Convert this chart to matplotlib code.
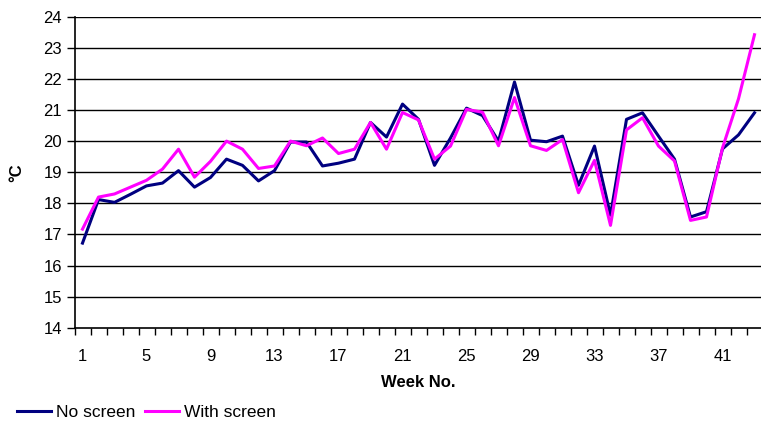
import matplotlib
matplotlib.use("Agg")
import matplotlib.pyplot as plt
import numpy as np

plt.rcParams['font.family'] = ['Liberation Sans', 'DejaVu Sans']

weeks = list(range(1, 44))
no_screen = [16.72, 18.12, 18.03, 18.29, 18.56, 18.65, 19.05, 18.52, 18.83, 19.42,
             19.22, 18.72, 19.05, 19.97, 19.97, 19.20, 19.29, 19.42, 20.60, 20.13,
             21.19, 20.70, 19.22, 20.10, 21.06, 20.82, 20.00, 21.90, 20.03, 19.98,
             20.16, 18.58, 19.84, 17.62, 20.70, 20.91, 20.16, 19.42, 17.56, 17.73,
             19.75, 20.20, 20.91]
with_screen = [17.17, 18.20, 18.30, 18.52, 18.74, 19.10, 19.74, 18.84, 19.35, 20.00,
               19.74, 19.12, 19.20, 20.00, 19.85, 20.10, 19.60, 19.74, 20.60, 19.74,
               20.92, 20.68, 19.42, 19.84, 21.02, 20.93, 19.85, 21.40, 19.85, 19.70,
               20.05, 18.34, 19.38, 17.29, 20.36, 20.75, 19.84, 19.36, 17.45, 17.56,
               19.78, 21.36, 23.42]
week_labels = [1, 5, 9, 13, 17, 21, 25, 29, 33, 37, 41]

fig = plt.figure(figsize=(7.61, 4.21), dpi=100)
W, H = 761, 421
ax = fig.add_axes([74.5 / W, 1 - 327.7 / H, (762.5 - 74.5) / W, (327.7 - 16.7) / H])

for y in range(15, 25):
    ax.axhline(y, color='black', lw=1.0, zorder=1)

ax.plot(weeks, no_screen, color='#000080', lw=2.2, label='No screen', zorder=3)
ax.plot(weeks, with_screen, color='#ff00ff', lw=2.2, label='With screen', zorder=3)

ax.set_xlim(0.5, 43.5)
ax.set_ylim(14, 24)
ax.set_yticks(range(14, 25))
ax.set_xticks(week_labels)
ax.set_xticks(np.arange(0.5, 44, 1), minor=True)
ax.tick_params(axis='x', which='major', length=0, pad=15, labelsize=12)
ax.tick_params(axis='x', which='minor', length=5, width=1, direction='out')
ax.tick_params(axis='y', length=6, width=1, direction='out', pad=3, labelsize=12)

for side in ['top', 'right']:
    ax.spines[side].set_visible(False)
for side in ['left', 'bottom']:
    ax.spines[side].set_linewidth(1.2)

ax.set_xlabel('Week No.', fontsize=12, fontweight='bold', labelpad=8)
ax.set_ylabel('°C', fontsize=12, fontweight='bold', labelpad=14)

fig.legend(loc='lower left', bbox_to_anchor=(7 / W, -0.022), ncol=2, frameon=False,
           fontsize=12.5, handlelength=1.95, handletextpad=0.3, columnspacing=0.55,
           borderaxespad=0.2)

fig.savefig('out.png', dpi=100)
